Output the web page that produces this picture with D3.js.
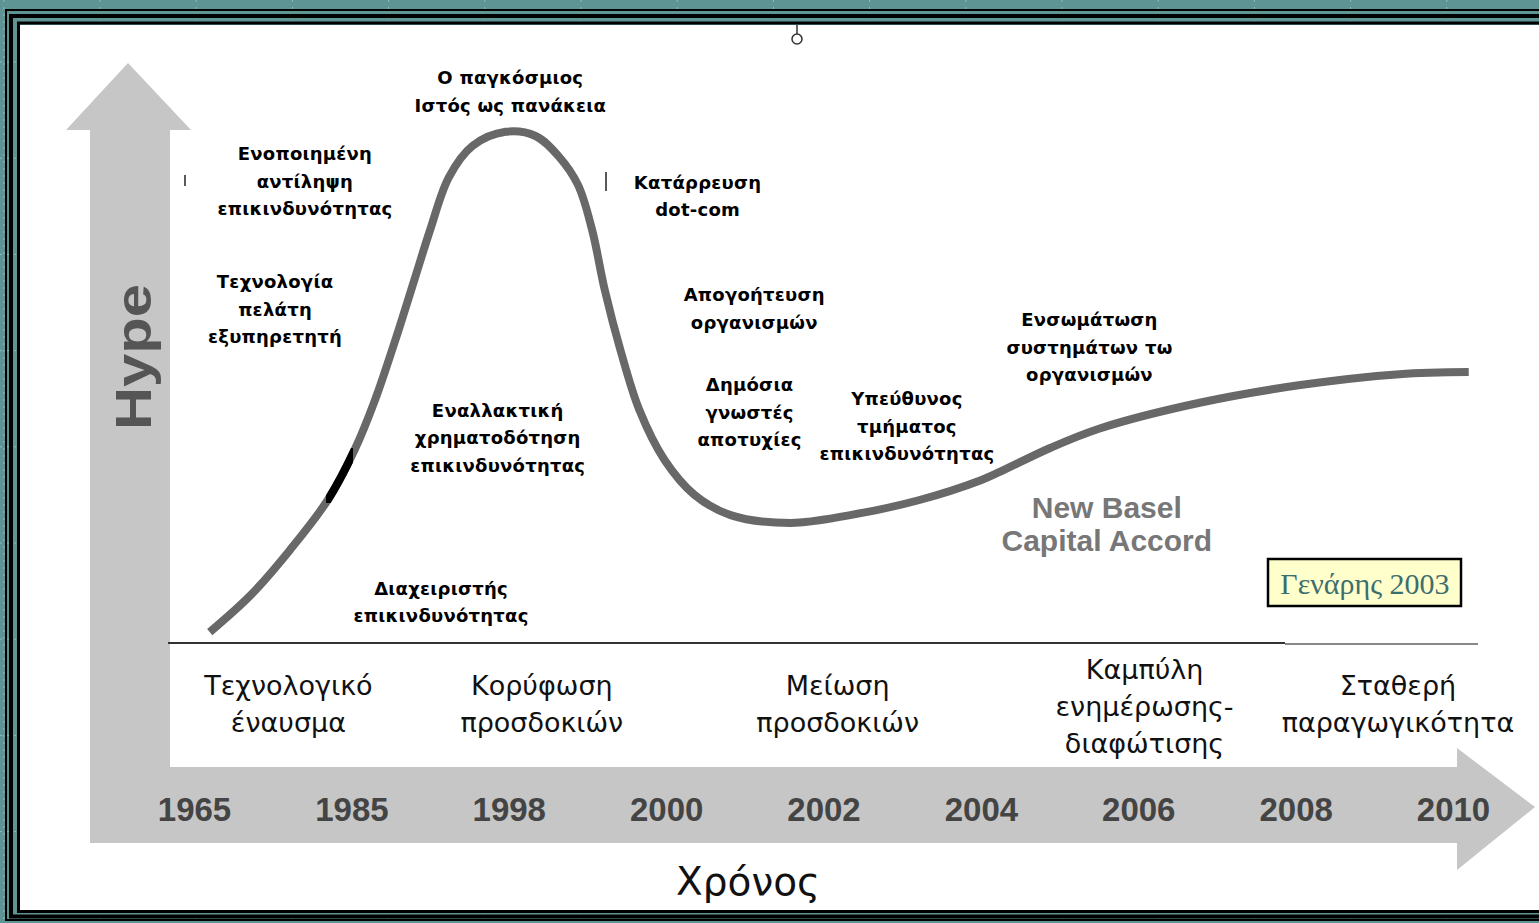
<!DOCTYPE html>
<html>
<head>
<meta charset="utf-8">
<script src="https://cdn.jsdelivr.net/npm/d3@7"></script>
<style>
html, body { margin: 0; padding: 0; background: #5f9494; overflow: hidden; }
</style>
</head>
<body>
<svg id="chart"></svg>
<script>
// years along the bottom arrow
const years = ["1965", "1985", "1998", "2000", "2002", "2004", "2006", "2008", "2010"];

// hype curve, x in year-slot units (0 = 1965 ... 8 = 2010), y in hype units (0..100)
const hypeX = [0.10, 0.36, 0.61, 0.85, 1.02, 1.15, 1.28, 1.40, 1.50, 1.62, 1.77, 1.98, 2.17, 2.32, 2.44, 2.53, 2.61, 2.71, 2.83, 2.99, 3.18, 3.41, 3.79, 4.17, 4.61, 5.00, 5.12, 5.44, 5.76, 6.39, 7.03, 7.66, 8.10];
const hypeY = [2.1, 9.2, 17.9, 27.5, 37.1, 46.7, 58.3, 69.8, 79.4, 89.6, 95.6, 98.3, 97.5, 93.5, 88.1, 79.4, 67.9, 56.3, 44.8, 35.2, 28.5, 24.6, 23.1, 24.6, 27.5, 31.3, 32.9, 37.5, 41.3, 46.2, 49.6, 51.7, 52.1];

// phases written under the baseline
const phaseNames = [
  ["Τεχνολογικό", "έναυσμα"],
  ["Κορύφωση", "προσδοκιών"],
  ["Μείωση", "προσδοκιών"],
  ["Καμπύλη", "ενημέρωσης-", "διαφώτισης"],
  ["Σταθερή", "παραγωγικότητα"]
];
const phaseX = [0.60, 2.21, 4.09, 6.04, 7.65];

// events along the curve
const eventNames = [
  ["Ο παγκόσμιος", "Ιστός ως πανάκεια"],
  ["Ενοποιημένη", "αντίληψη", "επικινδυνότητας"],
  ["Κατάρρευση", "dot-com"],
  ["Τεχνολογία", "πελάτη", "εξυπηρετητή"],
  ["Απογοήτευση", "οργανισμών"],
  ["Εναλλακτική", "χρηματοδότηση", "επικινδυνότητας"],
  ["Δημόσια", "γνωστές", "αποτυχίες"],
  ["Υπεύθυνος", "τμήματος", "επικινδυνότητας"],
  ["Ενσωμάτωση", "συστημάτων τω", "οργανισμών"],
  ["Πλήρως", "ενσωματωμένο", "ERM"],
  ["Πρότυπα", "Δεδομένων"],
  ["Διαχειριστής", "επικινδυνότητας"]
];
const eventX = [2.01, 0.705, 3.20, 0.515, 3.56, 1.93, 3.53, 4.53, 5.69, 7.55, 6.90, 1.57];
const eventY = [108.8, 94.2, 88.7, 69.6, 67.1, 44.9, 49.8, 47.1, 62.3, 69.4, 40.2, 10.6];

const baselName = ["New Basel", "Capital Accord"];
const dateLabel = "Γενάρης 2003";

const w = 1539;
const h = 923;

const svg = d3.select("#chart")
    .attr("width", w)
    .attr("height", h);

const xScale = d3.scaleLinear()
    .domain([0, years.length - 1])
    .range([194, 1453]);

const yScale = d3.scaleLinear()
    .domain([0, 100])
    .range([643, 123]);

const yearScale = d3.scalePoint()
    .domain(years)
    .range([194, 1453]);

// faint grid on the teal background
const grid = svg.append("g")
    .attr("stroke", "#8fbdbd")
    .attr("stroke-dasharray", "2,5")
    .attr("stroke-width", 1);
d3.range(-1, 16).forEach(k => {
    grid.append("line").attr("x1", 100 + k * 96.2).attr("x2", 100 + k * 96.2).attr("y1", 0).attr("y2", h);
    grid.append("line").attr("y1", 62 + k * 96.2).attr("y2", 62 + k * 96.2).attr("x1", 0).attr("x2", w);
});

// frame
svg.append("rect").attr("x", 6).attr("y", 10).attr("width", 1600).attr("height", 910)
    .attr("fill", "none").attr("stroke", "#000").attr("stroke-width", 2);
svg.append("rect").attr("x", 11).attr("y", 16).attr("width", 1600).attr("height", 900.5)
    .attr("fill", "none").attr("stroke", "#000").attr("stroke-width", 4);
svg.append("rect").attr("x", 18.5).attr("y", 23).attr("width", 1600).attr("height", 888.5)
    .attr("fill", "none").attr("stroke", "#000").attr("stroke-width", 3);
svg.append("rect").attr("x", 20).attr("y", 25).attr("width", 1600).attr("height", 885)
    .attr("fill", "#fff");

// grey L-shaped arrows (Hype up, time right)
svg.append("path")
    .attr("d", "M90,130 L66,130 L128,63 L191,130 L170,130 L170,767 L1457,767 L1457,748 L1535,807 L1457,870 L1457,843 L90,843 Z")
    .attr("fill", "#c6c6c6");

svg.append("text")
    .attr("transform", "translate(151,357) rotate(-90)")
    .attr("text-anchor", "middle")
    .attr("font-family", "Liberation Sans, Arial, sans-serif")
    .attr("font-weight", 700)
    .attr("font-size", 50)
    .attr("textLength", 146)
    .attr("lengthAdjust", "spacingAndGlyphs")
    .attr("fill", "#555")
    .text("Hype");

// year axis
const xAxis = d3.axisBottom(yearScale).tickSize(0).tickPadding(0);
const gx = svg.append("g")
    .attr("id", "x-axis")
    .attr("transform", "translate(0,821)")
    .call(xAxis);
gx.select(".domain").remove();
gx.selectAll("text")
    .attr("y", 0)
    .attr("dy", 0)
    .attr("font-family", "Liberation Sans, Arial, sans-serif")
    .attr("font-weight", 700)
    .attr("font-size", 33)
    .attr("fill", "#444");

svg.append("text")
    .attr("x", 748)
    .attr("y", 895)
    .attr("text-anchor", "middle")
    .attr("font-family", "DejaVu Sans, Verdana, sans-serif")
    .attr("font-size", 39)
    .attr("fill", "#111")
    .text("Χρόνος");

// baseline under the curve
svg.append("line").attr("x1", 168).attr("x2", 1285).attr("y1", 643).attr("y2", 643)
    .attr("stroke", "#333").attr("stroke-width", 2);
svg.append("line").attr("x1", 1285).attr("x2", 1478).attr("y1", 644).attr("y2", 644)
    .attr("stroke", "#888").attr("stroke-width", 2);

// phases
phaseNames.forEach((lines, i) => {
    const t = svg.append("text")
        .attr("text-anchor", "middle")
        .attr("font-family", "DejaVu Sans, Verdana, sans-serif")
        .attr("font-size", 27)
        .attr("fill", "#111");
    const y0 = lines.length === 3 ? 679 : 695;
    lines.forEach((s, j) => {
        t.append("tspan").attr("x", xScale(phaseX[i])).attr("y", y0 + j * 37).text(s);
    });
});

// hype curve
const line = d3.line()
    .x(d => xScale(d[0]))
    .y(d => yScale(d[1]))
    .curve(d3.curveCatmullRom.alpha(0.5));
const curveData = hypeX.map((x, i) => [x, hypeY[i]]);

svg.append("path")
    .datum(curveData)
    .attr("d", line)
    .attr("fill", "none")
    .attr("stroke", "#686868")
    .attr("stroke-width", 8);

svg.append("clipPath").attr("id", "darkseg")
    .append("rect").attr("x", 326).attr("y", 448).attr("width", 27).attr("height", 55);
svg.append("path")
    .datum(curveData)
    .attr("d", line)
    .attr("clip-path", "url(#darkseg)")
    .attr("fill", "none")
    .attr("stroke", "#000")
    .attr("stroke-width", 8);

// event labels
svg.append("clipPath").attr("id", "cut")
    .append("rect").attr("x", 20).attr("y", 25).attr("width", 1152).attr("height", 885);

eventNames.forEach((lines, i) => {
    const t = svg.append("text")
        .attr("text-anchor", "middle")
        .attr("font-family", "DejaVu Sans, Verdana, sans-serif")
        .attr("font-weight", 700)
        .attr("font-size", 18)
        .attr("letter-spacing", 0.25)
        .attr("fill", "#000")
        .attr("clip-path", "url(#cut)");
    lines.forEach((s, j) => {
        t.append("tspan")
            .attr("x", xScale(eventX[i]))
            .attr("y", yScale(eventY[i]) + 7 + j * 27.5)
            .text(s);
    });
});

// Basel label
const tb = svg.append("text")
    .attr("text-anchor", "middle")
    .attr("font-family", "Liberation Sans, Arial, sans-serif")
    .attr("font-weight", 700)
    .attr("font-size", 30)
    .attr("fill", "#777");
baselName.forEach((s, j) => {
    tb.append("tspan").attr("x", xScale(5.80)).attr("y", yScale(26.2) + 11 + j * 33).text(s);
});

// date box
svg.append("rect")
    .attr("x", 1268).attr("y", 559).attr("width", 193).attr("height", 47)
    .attr("fill", "#ffffcc").attr("stroke", "#000").attr("stroke-width", 2.5);
svg.append("text")
    .attr("x", 1365).attr("y", 594)
    .attr("text-anchor", "middle")
    .attr("font-family", "Liberation Serif, Times New Roman, serif")
    .attr("font-size", 30)
    .attr("fill", "#3d6e6e")
    .text(dateLabel);

// small handle at the top and stray marks
svg.append("line").attr("x1", 797).attr("x2", 797).attr("y1", 25).attr("y2", 34)
    .attr("stroke", "#333").attr("stroke-width", 1.5);
svg.append("circle").attr("cx", 797).attr("cy", 39).attr("r", 5)
    .attr("fill", "#fff").attr("stroke", "#333").attr("stroke-width", 1.5);
svg.append("line").attr("x1", 606).attr("x2", 606).attr("y1", 172).attr("y2", 191)
    .attr("stroke", "#222").attr("stroke-width", 1.5);
svg.append("line").attr("x1", 185).attr("x2", 185).attr("y1", 175).attr("y2", 186)
    .attr("stroke", "#222").attr("stroke-width", 1.5);
</script>
</body>
</html>
